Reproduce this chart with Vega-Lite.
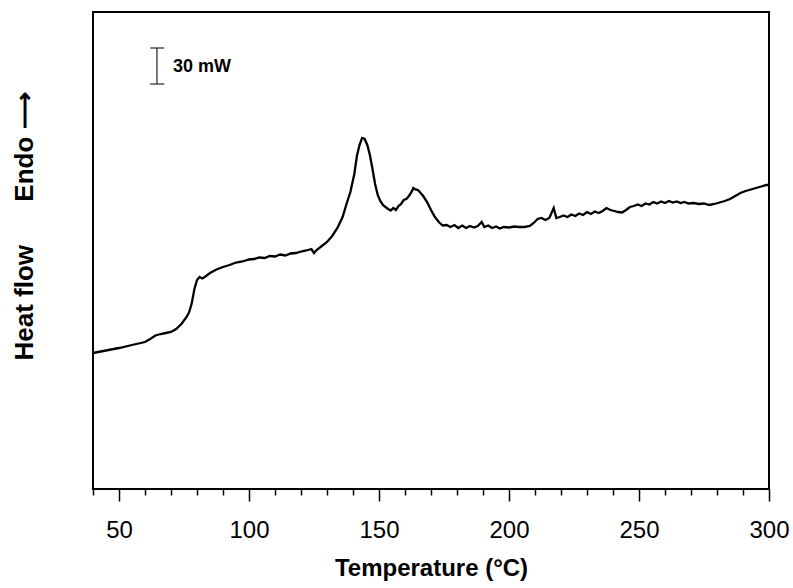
{
  "$schema": "https://vega.github.io/schema/vega-lite/v6.json",
  "width": 676,
  "height": 477,
  "autosize": {"type": "none"},
  "padding": {"left": 93, "top": 12, "right": 24, "bottom": 99},
  "background": "white",
  "config": {
    "font": "Liberation Sans",
    "view": {"stroke": "black", "strokeWidth": 2}
  },
  "datasets": {
    "dsc": [
      {"T": 40, "h": 136}, {"T": 45, "h": 138.5}, {"T": 50, "h": 141}, {"T": 55, "h": 144},
      {"T": 60, "h": 147}, {"T": 62, "h": 150}, {"T": 64, "h": 153.5}, {"T": 66, "h": 155},
      {"T": 68, "h": 156}, {"T": 70, "h": 157}, {"T": 72, "h": 160}, {"T": 74, "h": 165},
      {"T": 76, "h": 172}, {"T": 77, "h": 177}, {"T": 78, "h": 186}, {"T": 79, "h": 200},
      {"T": 80, "h": 209}, {"T": 81, "h": 212}, {"T": 82, "h": 210.5}, {"T": 83, "h": 212},
      {"T": 85, "h": 216}, {"T": 87.5, "h": 219.5}, {"T": 90, "h": 222}, {"T": 92.5, "h": 224},
      {"T": 95, "h": 226.5}, {"T": 97.5, "h": 227.5}, {"T": 100, "h": 229.5}, {"T": 102, "h": 230},
      {"T": 104, "h": 231.5}, {"T": 106, "h": 231}, {"T": 108, "h": 233}, {"T": 110, "h": 232.5},
      {"T": 112, "h": 234.5}, {"T": 114, "h": 233.5}, {"T": 116, "h": 235.5}, {"T": 118, "h": 236},
      {"T": 120, "h": 237.5}, {"T": 122, "h": 238.5}, {"T": 124, "h": 240}, {"T": 125, "h": 236},
      {"T": 126, "h": 239}, {"T": 128, "h": 243}, {"T": 130, "h": 247}, {"T": 132, "h": 253},
      {"T": 134, "h": 261}, {"T": 136, "h": 272}, {"T": 137.5, "h": 285}, {"T": 139, "h": 297},
      {"T": 140.5, "h": 315}, {"T": 141.5, "h": 333}, {"T": 142.5, "h": 344}, {"T": 143.5, "h": 351},
      {"T": 144.5, "h": 350}, {"T": 145.5, "h": 344}, {"T": 146.5, "h": 334}, {"T": 147.5, "h": 320},
      {"T": 148.5, "h": 305}, {"T": 149.5, "h": 294}, {"T": 150.5, "h": 288}, {"T": 151.5, "h": 284},
      {"T": 152.5, "h": 282}, {"T": 153.5, "h": 280}, {"T": 154.5, "h": 278.5}, {"T": 155.5, "h": 281},
      {"T": 156.5, "h": 279}, {"T": 157.5, "h": 283}, {"T": 158.5, "h": 285}, {"T": 159.5, "h": 289},
      {"T": 160.5, "h": 290}, {"T": 161.5, "h": 293}, {"T": 162.5, "h": 297}, {"T": 163.2, "h": 301},
      {"T": 164, "h": 299.5}, {"T": 165, "h": 299}, {"T": 166, "h": 296}, {"T": 167, "h": 293},
      {"T": 168.5, "h": 287}, {"T": 170, "h": 279}, {"T": 171.5, "h": 272}, {"T": 173, "h": 267},
      {"T": 174.5, "h": 263.5}, {"T": 176, "h": 264}, {"T": 177.5, "h": 262}, {"T": 179, "h": 264},
      {"T": 180.5, "h": 261}, {"T": 182, "h": 263.5}, {"T": 183.5, "h": 261}, {"T": 185, "h": 263},
      {"T": 186.5, "h": 261.5}, {"T": 188, "h": 263}, {"T": 189.5, "h": 267}, {"T": 190.5, "h": 262},
      {"T": 192, "h": 263.5}, {"T": 193.5, "h": 261}, {"T": 195, "h": 262.5}, {"T": 196.5, "h": 260.5},
      {"T": 198, "h": 262}, {"T": 200, "h": 261.5}, {"T": 202, "h": 262.5}, {"T": 204, "h": 262},
      {"T": 206, "h": 262}, {"T": 208, "h": 263}, {"T": 209.5, "h": 266}, {"T": 211, "h": 270},
      {"T": 212.5, "h": 271}, {"T": 214, "h": 269}, {"T": 215.5, "h": 271}, {"T": 217.2, "h": 281},
      {"T": 218.2, "h": 271}, {"T": 219.5, "h": 272}, {"T": 221, "h": 273.5}, {"T": 222.5, "h": 272},
      {"T": 224, "h": 274.5}, {"T": 225.5, "h": 273}, {"T": 227, "h": 275.5}, {"T": 228.5, "h": 274},
      {"T": 230, "h": 277}, {"T": 231.5, "h": 275}, {"T": 233, "h": 277.5}, {"T": 234.5, "h": 276},
      {"T": 236, "h": 278}, {"T": 237.5, "h": 281}, {"T": 239, "h": 279}, {"T": 240.5, "h": 278},
      {"T": 242, "h": 277}, {"T": 243.5, "h": 276.5}, {"T": 245, "h": 279}, {"T": 246.5, "h": 282},
      {"T": 248, "h": 283}, {"T": 249.5, "h": 284.5}, {"T": 251, "h": 283}, {"T": 252.5, "h": 285.5},
      {"T": 254, "h": 284.5}, {"T": 255.5, "h": 287}, {"T": 257, "h": 285.5}, {"T": 258.5, "h": 287.5},
      {"T": 260, "h": 286}, {"T": 261.5, "h": 288}, {"T": 263, "h": 286.5}, {"T": 264.5, "h": 287.5},
      {"T": 266, "h": 286}, {"T": 267.5, "h": 287}, {"T": 269, "h": 285.5}, {"T": 271, "h": 286},
      {"T": 273, "h": 285}, {"T": 275, "h": 285.5}, {"T": 277, "h": 284}, {"T": 279, "h": 285},
      {"T": 281, "h": 286.5}, {"T": 283, "h": 288}, {"T": 285, "h": 290}, {"T": 287, "h": 293},
      {"T": 289, "h": 296}, {"T": 291, "h": 298}, {"T": 293, "h": 299.5}, {"T": 295, "h": 301},
      {"T": 297, "h": 302.5}, {"T": 299, "h": 304}, {"T": 300, "h": 304}
    ],
    "scalebar": [
      {"T": 64.6, "T2": 64.6, "h": 405, "h2": 441},
      {"T": 62.0, "T2": 67.4, "h": 405, "h2": 405},
      {"T": 62.0, "T2": 67.4, "h": 441, "h2": 441}
    ],
    "scalelabel": [
      {"T": 70.8, "h": 422, "label": "30 mW"}
    ]
  },
  "encoding": {
    "x": {
      "field": "T",
      "type": "quantitative",
      "scale": {"domain": [40, 300], "nice": false, "zero": false},
      "axis": {
        "title": "Temperature (°C)",
        "values": [40, 50, 60, 70, 80, 90, 100, 110, 120, 130, 140, 150, 160, 170, 180, 190, 200, 210, 220, 230, 240, 250, 260, 270, 280, 290, 300],
        "labelExpr": "datum.value % 50 === 0 ? datum.label : ''",
        "format": "d",
        "grid": false,
        "domain": false,
        "ticks": true,
        "tickColor": "black",
        "tickWidth": 1.5,
        "tickSize": {"condition": {"test": "datum.value % 50 === 0", "value": 12}, "value": 6},
        "labelFontSize": 24,
        "labelColor": "black",
        "labelPadding": 17,
        "labelOverlap": false,
        "labelBound": false,
        "labelFlush": false,
        "titleFontSize": 24,
        "titleFontWeight": "bold",
        "titleColor": "black",
        "titlePadding": 14
      }
    },
    "y": {
      "field": "h",
      "type": "quantitative",
      "scale": {"domain": [0, 477], "nice": false, "zero": false},
      "axis": {
        "title": "Heat flow\u00a0\u00a0\u00a0\u00a0\u00a0\u00a0Endo\u00a0⟶",
        "grid": false,
        "domain": false,
        "ticks": false,
        "labels": false,
        "titleFontSize": 26,
        "titleFontWeight": "bold",
        "titleColor": "black",
        "titleAngle": -90,
        "titleX": -61,
        "titleY": 214,
        "titleBaseline": "alphabetic",
        "titleAlign": "center"
      }
    }
  },
  "layer": [
    {
      "data": {"name": "dsc"},
      "mark": {"type": "line", "color": "black", "strokeWidth": 2.3, "interpolate": "linear"}
    },
    {
      "data": {"name": "scalebar"},
      "mark": {"type": "rule", "color": "#222222", "strokeWidth": 1.2},
      "encoding": {
        "x2": {"field": "T2"},
        "y2": {"field": "h2"}
      }
    },
    {
      "data": {"name": "scalelabel"},
      "mark": {"type": "text", "align": "left", "baseline": "middle", "fontSize": 18, "fontWeight": "bold", "color": "black"},
      "encoding": {
        "text": {"field": "label"}
      }
    }
  ]
}
